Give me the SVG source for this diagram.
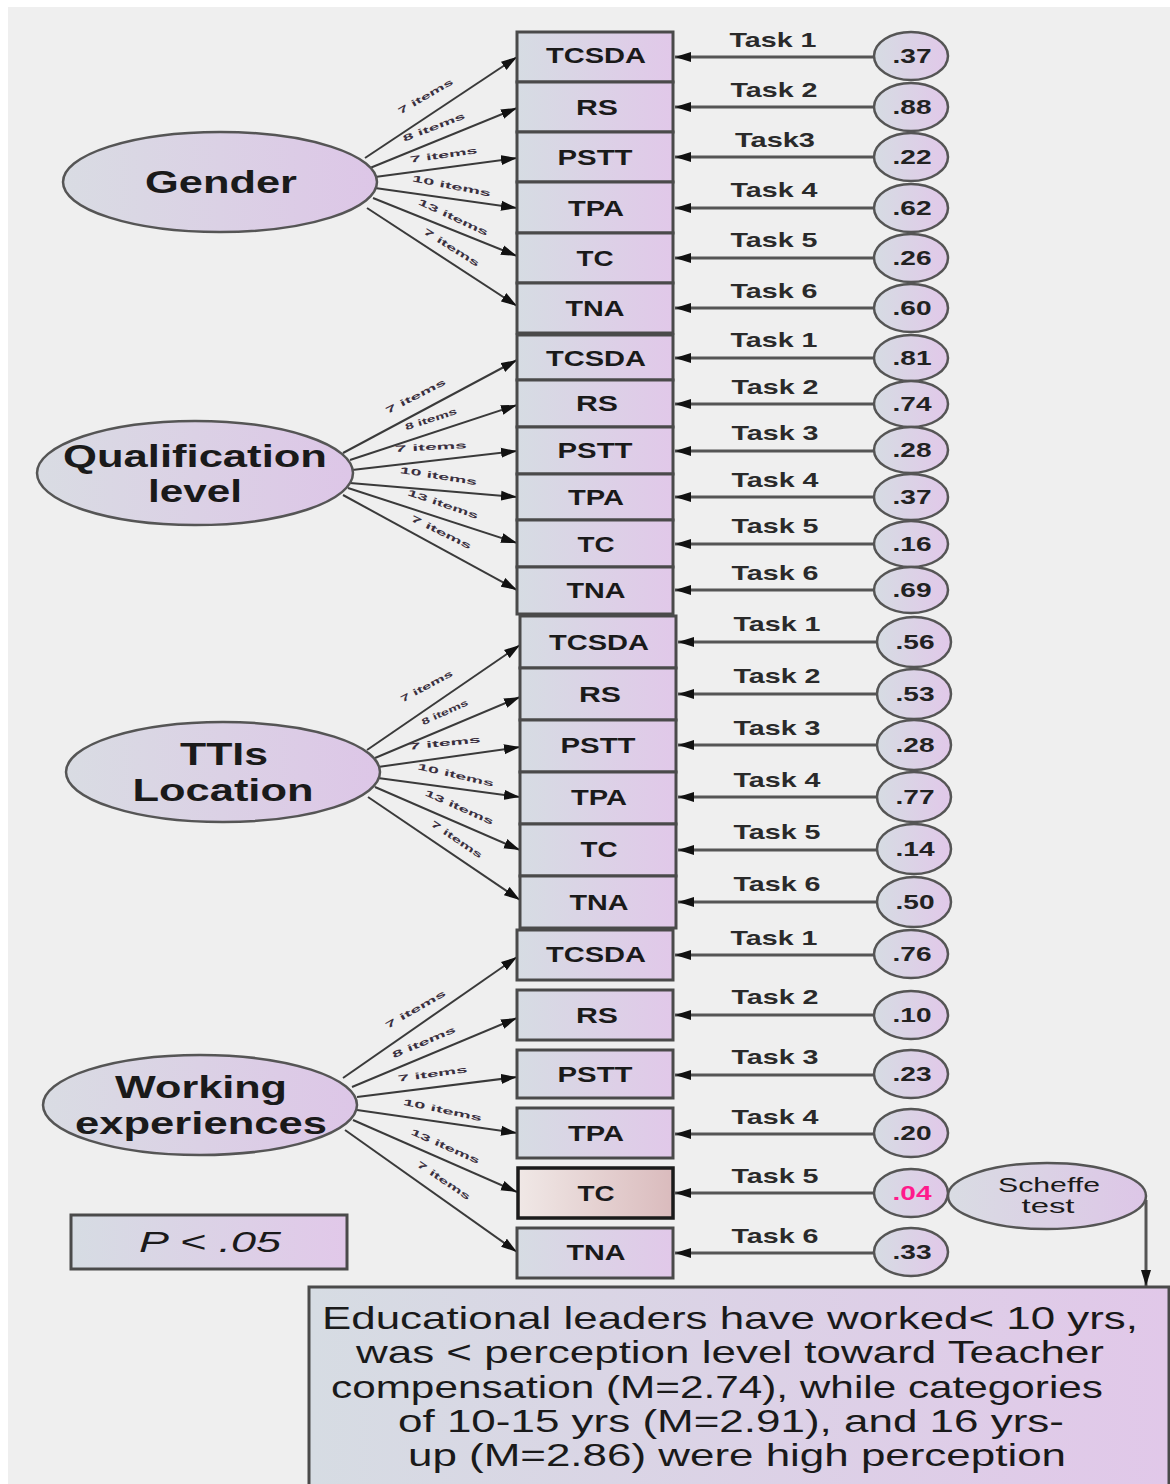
<svg xmlns="http://www.w3.org/2000/svg" width="1170" height="1484" viewBox="0 0 1170 1484">
<defs>
  <linearGradient id="gBox" x1="0" y1="0" x2="1" y2="0">
    <stop offset="0" stop-color="#d6dce3"/>
    <stop offset="1" stop-color="#e1c8e9"/>
  </linearGradient>
  <linearGradient id="gEll" x1="0" y1="0" x2="1" y2="0">
    <stop offset="0" stop-color="#d9dce3"/>
    <stop offset="1" stop-color="#ddc6e7"/>
  </linearGradient>
  <linearGradient id="gPink" x1="0" y1="0" x2="1" y2="0">
    <stop offset="0" stop-color="#f0e8e6"/>
    <stop offset="1" stop-color="#dabbbd"/>
  </linearGradient>
  <marker id="arr" markerUnits="userSpaceOnUse" markerWidth="17" markerHeight="11" refX="16" refY="5.5" orient="auto">
    <path d="M0,0.5 L16,5.5 L0,10.5 Z" fill="#111"/>
  </marker>
  <style>
    .bg{fill:#efefef}
    .box{fill:url(#gBox);stroke:#4a4a4a;stroke-width:3}
    .pink{fill:url(#gPink);stroke:#1a1a1a;stroke-width:3.5}
    .ell{fill:url(#gEll);stroke:#555;stroke-width:2.5}
    .val{fill:url(#gBox);stroke:#555;stroke-width:2.5}
    .edge{stroke:#3a3a3a;stroke-width:2;fill:none;marker-end:url(#arr)}
    .err{stroke:#555;stroke-width:3;fill:none;marker-end:url(#arr)}
    text{font-family:"Liberation Sans",Arial,sans-serif;fill:#1a1a1a}
    .lat{font-size:32px;font-weight:bold;text-anchor:middle}
    .bl{font-size:22px;font-weight:bold;text-anchor:middle}
    .tk{font-size:21px;font-weight:bold;text-anchor:middle;fill:#2a2a2a}
    .vt{font-size:21px;font-weight:bold;text-anchor:middle;fill:#222}
    .el{font-size:9px;font-weight:bold;text-anchor:middle;fill:#3a3040}
    .note{font-size:32px;text-anchor:middle}
  </style>
</defs>

<!-- page -->
<rect x="0" y="0" width="1170" height="1484" fill="#ffffff"/>
<rect class="bg" x="8" y="7" width="1162" height="1477"/>

<!-- ===== connectors ===== -->
<g id="connectors">
  <!-- Gender -> indicators -->
  <line class="edge" x1="365" y1="158" x2="517" y2="57"/>
  <line class="edge" x1="370" y1="168" x2="517" y2="108"/>
  <line class="edge" x1="375" y1="177" x2="517" y2="158"/>
  <line class="edge" x1="375" y1="188" x2="517" y2="208"/>
  <line class="edge" x1="373" y1="198" x2="517" y2="256"/>
  <line class="edge" x1="367" y1="208" x2="517" y2="306"/>
  <!-- Qualification -> indicators -->
  <line class="edge" x1="343" y1="453" x2="517" y2="360"/>
  <line class="edge" x1="350" y1="460" x2="517" y2="405"/>
  <line class="edge" x1="352" y1="470" x2="517" y2="451"/>
  <line class="edge" x1="350" y1="483" x2="517" y2="497"/>
  <line class="edge" x1="348" y1="488" x2="517" y2="543"/>
  <line class="edge" x1="343" y1="495" x2="517" y2="590"/>
  <!-- TTIs Location -> indicators -->
  <line class="edge" x1="367" y1="750" x2="520" y2="645"/>
  <line class="edge" x1="375" y1="758" x2="520" y2="697"/>
  <line class="edge" x1="378" y1="767" x2="520" y2="747"/>
  <line class="edge" x1="378" y1="778" x2="520" y2="797"/>
  <line class="edge" x1="375" y1="787" x2="520" y2="850"/>
  <line class="edge" x1="368" y1="797" x2="520" y2="900"/>
  <!-- Working experiences -> indicators -->
  <line class="edge" x1="343" y1="1078" x2="517" y2="957"/>
  <line class="edge" x1="352" y1="1087" x2="517" y2="1018"/>
  <line class="edge" x1="357" y1="1097" x2="517" y2="1077"/>
  <line class="edge" x1="357" y1="1110" x2="517" y2="1133"/>
  <line class="edge" x1="353" y1="1120" x2="517" y2="1192"/>
  <line class="edge" x1="345" y1="1130" x2="517" y2="1252"/>

  <!-- item-count labels -->
  <text class="el" transform="translate(427,99) rotate(-30)" textLength="62" lengthAdjust="spacingAndGlyphs">7 items</text>
  <text class="el" transform="translate(435,130) rotate(-21)" textLength="66" lengthAdjust="spacingAndGlyphs">8 items</text>
  <text class="el" transform="translate(444,158) rotate(-8)" textLength="68" lengthAdjust="spacingAndGlyphs">7 items</text>
  <text class="el" transform="translate(451,189) rotate(11)" textLength="80" lengthAdjust="spacingAndGlyphs">10 items</text>
  <text class="el" transform="translate(452,220) rotate(25)" textLength="76" lengthAdjust="spacingAndGlyphs">13 items</text>
  <text class="el" transform="translate(450,250) rotate(32)" textLength="64" lengthAdjust="spacingAndGlyphs">7 items</text>

  <text class="el" transform="translate(417,399) rotate(-27)" textLength="66" lengthAdjust="spacingAndGlyphs">7 items</text>
  <text class="el" transform="translate(432,422) rotate(-18)" textLength="54" lengthAdjust="spacingAndGlyphs">8 items</text>
  <text class="el" transform="translate(431,450) rotate(-3)" textLength="72" lengthAdjust="spacingAndGlyphs">7 items</text>
  <text class="el" transform="translate(438,479) rotate(9)" textLength="78" lengthAdjust="spacingAndGlyphs">10 items</text>
  <text class="el" transform="translate(442,507) rotate(19)" textLength="74" lengthAdjust="spacingAndGlyphs">13 items</text>
  <text class="el" transform="translate(440,535) rotate(26)" textLength="66" lengthAdjust="spacingAndGlyphs">7 items</text>

  <text class="el" transform="translate(428,689) rotate(-28)" textLength="58" lengthAdjust="spacingAndGlyphs">7 items</text>
  <text class="el" transform="translate(446,715) rotate(-24)" textLength="50" lengthAdjust="spacingAndGlyphs">8 items</text>
  <text class="el" transform="translate(445,746) rotate(-6)" textLength="72" lengthAdjust="spacingAndGlyphs">7 items</text>
  <text class="el" transform="translate(455,778) rotate(13)" textLength="78" lengthAdjust="spacingAndGlyphs">10 items</text>
  <text class="el" transform="translate(458,810) rotate(24)" textLength="74" lengthAdjust="spacingAndGlyphs">13 items</text>
  <text class="el" transform="translate(455,842) rotate(34)" textLength="60" lengthAdjust="spacingAndGlyphs">7 items</text>

  <text class="el" transform="translate(417,1012) rotate(-30)" textLength="68" lengthAdjust="spacingAndGlyphs">7 items</text>
  <text class="el" transform="translate(425,1045) rotate(-23)" textLength="68" lengthAdjust="spacingAndGlyphs">8 items</text>
  <text class="el" transform="translate(433,1077) rotate(-8)" textLength="70" lengthAdjust="spacingAndGlyphs">7 items</text>
  <text class="el" transform="translate(442,1113) rotate(12)" textLength="80" lengthAdjust="spacingAndGlyphs">10 items</text>
  <text class="el" transform="translate(444,1149) rotate(24)" textLength="74" lengthAdjust="spacingAndGlyphs">13 items</text>
  <text class="el" transform="translate(442,1183) rotate(34)" textLength="62" lengthAdjust="spacingAndGlyphs">7 items</text>

  <!-- residual -> indicator arrows -->
  <line class="err" x1="874" y1="57" x2="675" y2="57"/>
  <line class="err" x1="874" y1="107" x2="675" y2="107"/>
  <line class="err" x1="874" y1="157" x2="675" y2="157"/>
  <line class="err" x1="874" y1="208" x2="675" y2="208"/>
  <line class="err" x1="874" y1="258" x2="675" y2="258"/>
  <line class="err" x1="874" y1="308" x2="675" y2="308"/>

  <line class="err" x1="874" y1="358" x2="675" y2="358"/>
  <line class="err" x1="874" y1="404" x2="675" y2="404"/>
  <line class="err" x1="874" y1="451" x2="675" y2="451"/>
  <line class="err" x1="874" y1="497" x2="675" y2="497"/>
  <line class="err" x1="874" y1="544" x2="675" y2="544"/>
  <line class="err" x1="874" y1="590" x2="675" y2="590"/>

  <line class="err" x1="877" y1="642" x2="678" y2="642"/>
  <line class="err" x1="877" y1="694" x2="678" y2="694"/>
  <line class="err" x1="877" y1="745" x2="678" y2="745"/>
  <line class="err" x1="877" y1="797" x2="678" y2="797"/>
  <line class="err" x1="877" y1="850" x2="678" y2="850"/>
  <line class="err" x1="877" y1="902" x2="678" y2="902"/>

  <line class="err" x1="874" y1="955" x2="675" y2="955"/>
  <line class="err" x1="874" y1="1015" x2="675" y2="1015"/>
  <line class="err" x1="874" y1="1075" x2="675" y2="1075"/>
  <line class="err" x1="874" y1="1134" x2="675" y2="1134"/>
  <line class="err" x1="874" y1="1193" x2="675" y2="1193"/>
  <line class="err" x1="874" y1="1253" x2="675" y2="1253"/>

  <!-- task labels -->
  <text class="tk" x="773" y="47" textLength="87" lengthAdjust="spacingAndGlyphs">Task 1</text>
  <text class="tk" x="774" y="97" textLength="87" lengthAdjust="spacingAndGlyphs">Task 2</text>
  <text class="tk" x="775" y="147" textLength="80" lengthAdjust="spacingAndGlyphs">Task3</text>
  <text class="tk" x="774" y="197" textLength="87" lengthAdjust="spacingAndGlyphs">Task 4</text>
  <text class="tk" x="774" y="247" textLength="87" lengthAdjust="spacingAndGlyphs">Task 5</text>
  <text class="tk" x="774" y="298" textLength="87" lengthAdjust="spacingAndGlyphs">Task 6</text>

  <text class="tk" x="774" y="347" textLength="87" lengthAdjust="spacingAndGlyphs">Task 1</text>
  <text class="tk" x="775" y="394" textLength="87" lengthAdjust="spacingAndGlyphs">Task 2</text>
  <text class="tk" x="775" y="440" textLength="87" lengthAdjust="spacingAndGlyphs">Task 3</text>
  <text class="tk" x="775" y="487" textLength="87" lengthAdjust="spacingAndGlyphs">Task 4</text>
  <text class="tk" x="775" y="533" textLength="87" lengthAdjust="spacingAndGlyphs">Task 5</text>
  <text class="tk" x="775" y="580" textLength="87" lengthAdjust="spacingAndGlyphs">Task 6</text>

  <text class="tk" x="777" y="631" textLength="87" lengthAdjust="spacingAndGlyphs">Task 1</text>
  <text class="tk" x="777" y="683" textLength="87" lengthAdjust="spacingAndGlyphs">Task 2</text>
  <text class="tk" x="777" y="735" textLength="87" lengthAdjust="spacingAndGlyphs">Task 3</text>
  <text class="tk" x="777" y="787" textLength="87" lengthAdjust="spacingAndGlyphs">Task 4</text>
  <text class="tk" x="777" y="839" textLength="87" lengthAdjust="spacingAndGlyphs">Task 5</text>
  <text class="tk" x="777" y="891" textLength="87" lengthAdjust="spacingAndGlyphs">Task 6</text>

  <text class="tk" x="774" y="945" textLength="87" lengthAdjust="spacingAndGlyphs">Task 1</text>
  <text class="tk" x="775" y="1004" textLength="87" lengthAdjust="spacingAndGlyphs">Task 2</text>
  <text class="tk" x="775" y="1064" textLength="87" lengthAdjust="spacingAndGlyphs">Task 3</text>
  <text class="tk" x="775" y="1124" textLength="87" lengthAdjust="spacingAndGlyphs">Task 4</text>
  <text class="tk" x="775" y="1183" textLength="87" lengthAdjust="spacingAndGlyphs">Task 5</text>
  <text class="tk" x="775" y="1243" textLength="87" lengthAdjust="spacingAndGlyphs">Task 6</text>

  <!-- Scheffe test -> note -->
  <path class="err" d="M1146,1200 L1146,1286"/>
</g>

<!-- ===== latent factors ===== -->
<g id="gender">
  <ellipse class="ell" cx="220" cy="182" rx="157" ry="50"/>
  <text class="lat" x="221" y="193" textLength="152" lengthAdjust="spacingAndGlyphs">Gender</text>
</g>
<g id="qualification">
  <ellipse class="ell" cx="195" cy="473" rx="158" ry="52"/>
  <text class="lat" x="195" y="467" textLength="264" lengthAdjust="spacingAndGlyphs">Qualification</text>
  <text class="lat" x="195" y="502" textLength="94" lengthAdjust="spacingAndGlyphs">level</text>
</g>
<g id="ttis-location">
  <ellipse class="ell" cx="223" cy="772" rx="157" ry="50"/>
  <text class="lat" x="224" y="765" textLength="88" lengthAdjust="spacingAndGlyphs">TTIs</text>
  <text class="lat" x="223" y="801" textLength="181" lengthAdjust="spacingAndGlyphs">Location</text>
</g>
<g id="working-experiences">
  <ellipse class="ell" cx="200" cy="1105" rx="157" ry="50"/>
  <text class="lat" x="201" y="1098" textLength="172" lengthAdjust="spacingAndGlyphs">Working</text>
  <text class="lat" x="201" y="1134" textLength="252" lengthAdjust="spacingAndGlyphs">experiences</text>
</g>

<!-- ===== indicators: Gender ===== -->
<g id="g-tcsda"><rect class="box" x="517" y="32" width="156" height="50"/><text class="bl" x="596" y="63" textLength="100" lengthAdjust="spacingAndGlyphs">TCSDA</text></g>
<g id="g-rs"><rect class="box" x="517" y="82" width="156" height="50"/><text class="bl" x="597" y="115" textLength="42" lengthAdjust="spacingAndGlyphs">RS</text></g>
<g id="g-pstt"><rect class="box" x="517" y="132" width="156" height="50"/><text class="bl" x="595" y="165" textLength="75" lengthAdjust="spacingAndGlyphs">PSTT</text></g>
<g id="g-tpa"><rect class="box" x="517" y="182" width="156" height="51"/><text class="bl" x="596" y="216" textLength="56" lengthAdjust="spacingAndGlyphs">TPA</text></g>
<g id="g-tc"><rect class="box" x="517" y="233" width="156" height="50"/><text class="bl" x="595" y="266" textLength="37" lengthAdjust="spacingAndGlyphs">TC</text></g>
<g id="g-tna"><rect class="box" x="517" y="283" width="156" height="50"/><text class="bl" x="595" y="316" textLength="59" lengthAdjust="spacingAndGlyphs">TNA</text></g>

<!-- ===== indicators: Qualification level ===== -->
<g id="q-tcsda"><rect class="box" x="517" y="335" width="156" height="45"/><text class="bl" x="596" y="366" textLength="100" lengthAdjust="spacingAndGlyphs">TCSDA</text></g>
<g id="q-rs"><rect class="box" x="517" y="380" width="156" height="47"/><text class="bl" x="597" y="411" textLength="42" lengthAdjust="spacingAndGlyphs">RS</text></g>
<g id="q-pstt"><rect class="box" x="517" y="427" width="156" height="47"/><text class="bl" x="595" y="458" textLength="75" lengthAdjust="spacingAndGlyphs">PSTT</text></g>
<g id="q-tpa"><rect class="box" x="517" y="474" width="156" height="46"/><text class="bl" x="596" y="505" textLength="56" lengthAdjust="spacingAndGlyphs">TPA</text></g>
<g id="q-tc"><rect class="box" x="517" y="520" width="156" height="47"/><text class="bl" x="596" y="552" textLength="37" lengthAdjust="spacingAndGlyphs">TC</text></g>
<g id="q-tna"><rect class="box" x="517" y="567" width="156" height="47"/><text class="bl" x="596" y="598" textLength="59" lengthAdjust="spacingAndGlyphs">TNA</text></g>

<!-- ===== indicators: TTIs Location ===== -->
<g id="t-tcsda"><rect class="box" x="520" y="616" width="156" height="52"/><text class="bl" x="599" y="650" textLength="100" lengthAdjust="spacingAndGlyphs">TCSDA</text></g>
<g id="t-rs"><rect class="box" x="520" y="668" width="156" height="52"/><text class="bl" x="600" y="702" textLength="42" lengthAdjust="spacingAndGlyphs">RS</text></g>
<g id="t-pstt"><rect class="box" x="520" y="720" width="156" height="52"/><text class="bl" x="598" y="753" textLength="75" lengthAdjust="spacingAndGlyphs">PSTT</text></g>
<g id="t-tpa"><rect class="box" x="520" y="772" width="156" height="52"/><text class="bl" x="599" y="805" textLength="56" lengthAdjust="spacingAndGlyphs">TPA</text></g>
<g id="t-tc"><rect class="box" x="520" y="824" width="156" height="52"/><text class="bl" x="599" y="857" textLength="37" lengthAdjust="spacingAndGlyphs">TC</text></g>
<g id="t-tna"><rect class="box" x="520" y="876" width="156" height="52"/><text class="bl" x="599" y="910" textLength="59" lengthAdjust="spacingAndGlyphs">TNA</text></g>

<!-- ===== indicators: Working experiences ===== -->
<g id="w-tcsda"><rect class="box" x="517" y="930" width="156" height="50"/><text class="bl" x="596" y="962" textLength="100" lengthAdjust="spacingAndGlyphs">TCSDA</text></g>
<g id="w-rs"><rect class="box" x="517" y="990" width="156" height="50"/><text class="bl" x="597" y="1023" textLength="42" lengthAdjust="spacingAndGlyphs">RS</text></g>
<g id="w-pstt"><rect class="box" x="517" y="1050" width="156" height="48"/><text class="bl" x="595" y="1082" textLength="75" lengthAdjust="spacingAndGlyphs">PSTT</text></g>
<g id="w-tpa"><rect class="box" x="517" y="1108" width="156" height="50"/><text class="bl" x="596" y="1141" textLength="56" lengthAdjust="spacingAndGlyphs">TPA</text></g>
<g id="w-tc"><rect class="pink" x="518" y="1168" width="155" height="50"/><text class="bl" x="596" y="1201" textLength="37" lengthAdjust="spacingAndGlyphs">TC</text></g>
<g id="w-tna"><rect class="box" x="517" y="1228" width="156" height="50"/><text class="bl" x="596" y="1260" textLength="59" lengthAdjust="spacingAndGlyphs">TNA</text></g>

<!-- ===== residual values ===== -->
<g id="v-g1"><ellipse class="val" cx="911" cy="56" rx="37" ry="24"/><text class="vt" x="912" y="63" textLength="39" lengthAdjust="spacingAndGlyphs">.37</text></g>
<g id="v-g2"><ellipse class="val" cx="911" cy="107" rx="37" ry="24"/><text class="vt" x="912" y="114" textLength="39" lengthAdjust="spacingAndGlyphs">.88</text></g>
<g id="v-g3"><ellipse class="val" cx="911" cy="157" rx="37" ry="24"/><text class="vt" x="912" y="164" textLength="39" lengthAdjust="spacingAndGlyphs">.22</text></g>
<g id="v-g4"><ellipse class="val" cx="911" cy="208" rx="37" ry="24"/><text class="vt" x="912" y="215" textLength="39" lengthAdjust="spacingAndGlyphs">.62</text></g>
<g id="v-g5"><ellipse class="val" cx="911" cy="258" rx="37" ry="24"/><text class="vt" x="912" y="265" textLength="39" lengthAdjust="spacingAndGlyphs">.26</text></g>
<g id="v-g6"><ellipse class="val" cx="911" cy="308" rx="37" ry="24"/><text class="vt" x="912" y="315" textLength="39" lengthAdjust="spacingAndGlyphs">.60</text></g>

<g id="v-q1"><ellipse class="val" cx="911" cy="358" rx="37" ry="23"/><text class="vt" x="912" y="365" textLength="39" lengthAdjust="spacingAndGlyphs">.81</text></g>
<g id="v-q2"><ellipse class="val" cx="911" cy="404" rx="37" ry="23"/><text class="vt" x="912" y="411" textLength="39" lengthAdjust="spacingAndGlyphs">.74</text></g>
<g id="v-q3"><ellipse class="val" cx="911" cy="450" rx="37" ry="23"/><text class="vt" x="912" y="457" textLength="39" lengthAdjust="spacingAndGlyphs">.28</text></g>
<g id="v-q4"><ellipse class="val" cx="911" cy="497" rx="37" ry="23"/><text class="vt" x="912" y="504" textLength="39" lengthAdjust="spacingAndGlyphs">.37</text></g>
<g id="v-q5"><ellipse class="val" cx="911" cy="544" rx="37" ry="23"/><text class="vt" x="912" y="551" textLength="39" lengthAdjust="spacingAndGlyphs">.16</text></g>
<g id="v-q6"><ellipse class="val" cx="911" cy="590" rx="37" ry="23"/><text class="vt" x="912" y="597" textLength="39" lengthAdjust="spacingAndGlyphs">.69</text></g>

<g id="v-t1"><ellipse class="val" cx="914" cy="642" rx="37" ry="25"/><text class="vt" x="915" y="649" textLength="39" lengthAdjust="spacingAndGlyphs">.56</text></g>
<g id="v-t2"><ellipse class="val" cx="914" cy="694" rx="37" ry="25"/><text class="vt" x="915" y="701" textLength="39" lengthAdjust="spacingAndGlyphs">.53</text></g>
<g id="v-t3"><ellipse class="val" cx="914" cy="745" rx="37" ry="25"/><text class="vt" x="915" y="752" textLength="39" lengthAdjust="spacingAndGlyphs">.28</text></g>
<g id="v-t4"><ellipse class="val" cx="914" cy="797" rx="37" ry="25"/><text class="vt" x="915" y="804" textLength="39" lengthAdjust="spacingAndGlyphs">.77</text></g>
<g id="v-t5"><ellipse class="val" cx="914" cy="849" rx="37" ry="25"/><text class="vt" x="915" y="856" textLength="39" lengthAdjust="spacingAndGlyphs">.14</text></g>
<g id="v-t6"><ellipse class="val" cx="914" cy="902" rx="37" ry="25"/><text class="vt" x="915" y="909" textLength="39" lengthAdjust="spacingAndGlyphs">.50</text></g>

<g id="v-w1"><ellipse class="val" cx="911" cy="954" rx="37" ry="24"/><text class="vt" x="912" y="961" textLength="39" lengthAdjust="spacingAndGlyphs">.76</text></g>
<g id="v-w2"><ellipse class="val" cx="911" cy="1015" rx="37" ry="24"/><text class="vt" x="912" y="1022" textLength="39" lengthAdjust="spacingAndGlyphs">.10</text></g>
<g id="v-w3"><ellipse class="val" cx="911" cy="1074" rx="37" ry="24"/><text class="vt" x="912" y="1081" textLength="39" lengthAdjust="spacingAndGlyphs">.23</text></g>
<g id="v-w4"><ellipse class="val" cx="911" cy="1133" rx="37" ry="24"/><text class="vt" x="912" y="1140" textLength="39" lengthAdjust="spacingAndGlyphs">.20</text></g>
<g id="v-w5"><ellipse class="val" cx="911" cy="1193" rx="37" ry="24"/><text class="vt" x="912" y="1200" textLength="39" lengthAdjust="spacingAndGlyphs" style="fill:#ff1a8c">.04</text></g>
<g id="v-w6"><ellipse class="val" cx="911" cy="1252" rx="37" ry="24"/><text class="vt" x="912" y="1259" textLength="39" lengthAdjust="spacingAndGlyphs">.33</text></g>

<!-- ===== post-hoc test ===== -->
<g id="scheffe">
  <ellipse class="ell" cx="1047" cy="1196" rx="99" ry="33"/>
  <text x="1049" y="1192" font-size="21" text-anchor="middle" textLength="102" lengthAdjust="spacingAndGlyphs">Scheffe</text>
  <text x="1048" y="1213" font-size="21" text-anchor="middle" textLength="53" lengthAdjust="spacingAndGlyphs">test</text>
</g>

<!-- ===== significance legend ===== -->
<g id="p-legend">
  <rect x="71" y="1215" width="276" height="54" fill="url(#gBox)" stroke="#4a4a4a" stroke-width="3"/>
  <text x="210" y="1252" font-size="30" font-style="italic" text-anchor="middle" textLength="142" lengthAdjust="spacingAndGlyphs" fill="#2a2a3a">P &lt; .05</text>
</g>

<!-- ===== interpretation note ===== -->
<g id="note">
  <rect x="309" y="1287" width="860" height="200" fill="url(#gBox)" stroke="#4a4a4a" stroke-width="3"/>
  <text class="note" x="730" y="1329" textLength="816" lengthAdjust="spacingAndGlyphs">Educational leaders have worked&lt; 10 yrs,</text>
  <text class="note" x="730" y="1363" textLength="748" lengthAdjust="spacingAndGlyphs">was &lt; perception level toward Teacher</text>
  <text class="note" x="717" y="1398" textLength="772" lengthAdjust="spacingAndGlyphs">compensation (M=2.74), while categories</text>
  <text class="note" x="731" y="1432" textLength="666" lengthAdjust="spacingAndGlyphs">of 10-15 yrs (M=2.91), and 16 yrs-</text>
  <text class="note" x="737" y="1466" textLength="658" lengthAdjust="spacingAndGlyphs">up (M=2.86) were high perception</text>
</g>
</svg>
